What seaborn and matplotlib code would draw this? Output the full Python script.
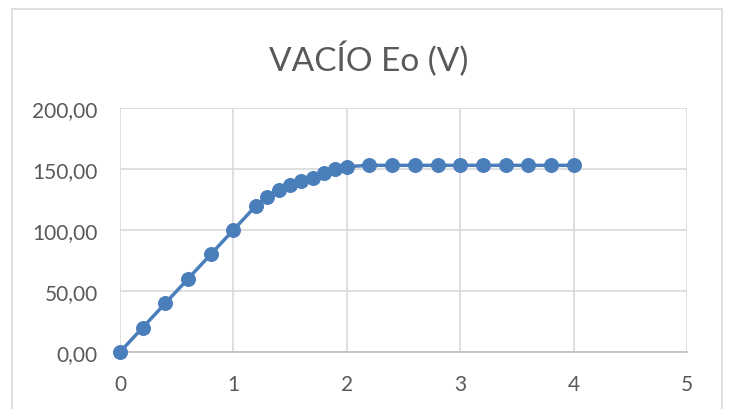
import matplotlib
matplotlib.use('Agg')
import matplotlib.pyplot as plt
from matplotlib.patches import Rectangle
import pandas as pd
import seaborn as sns

# Data
corriente = [0, 0.2, 0.4, 0.6, 0.8, 1.0, 1.2, 1.3, 1.4, 1.5, 1.6, 1.7, 1.8, 1.9, 2.0,
             2.2, 2.4, 2.6, 2.8, 3.0, 3.2, 3.4, 3.6, 3.8, 4.0]
tension = [0, 20, 40, 60, 80, 100, 120, 127, 133, 137, 140, 143, 147, 150, 152,
           153, 153, 153, 153, 153, 153, 153, 153, 153, 153]
y_ticks = [0, 50, 100, 150, 200]
y_labels = ['0,00', '50,00', '100,00', '150,00', '200,00']
x_ticks = [0, 1, 2, 3, 4, 5]

df = pd.DataFrame({'I': corriente, 'Eo': tension})

sns.set_style('white')
plt.rcParams['font.family'] = ['Lato', 'DejaVu Sans']

blue = '#4a7ebb'
grid = '#d9d9d9'
text = '#595959'

fig = plt.figure(figsize=(7.31, 4.10), dpi=100)
ax = fig.add_axes([120 / 731, 1 - 353 / 410, 567 / 731, 244 / 410])

sns.lineplot(data=df, x='I', y='Eo', ax=ax, color=blue, linewidth=2.5,
             marker='o', markersize=10, markeredgecolor=blue, clip_on=False, zorder=3)

ax.set_xlim(0, 5)
ax.set_ylim(0, 200)
ax.set_xticks(x_ticks)
ax.set_xticklabels([str(t) for t in x_ticks])
ax.set_yticks(y_ticks)
ax.set_yticklabels(y_labels)
ax.grid(True, color=grid, linewidth=1.2)
ax.set_axisbelow(True)
for side in ['top', 'right', 'left']:
    ax.spines[side].set_visible(False)
ax.spines['bottom'].set_color('#bfbfbf')
ax.spines['bottom'].set_linewidth(1.2)
ax.tick_params(axis='both', length=0, labelsize=15, colors=text)
ax.tick_params(axis='x', pad=16)
ax.tick_params(axis='y', pad=16)
ax.set_xlabel('')
ax.set_ylabel('')

fig.text(0.505, 0.855, 'VACÍO Eo (V)', ha='center', va='center', fontsize=24, color=text)

# chart border
fig.patches.append(Rectangle((12 / 731, -0.05), 710 / 731, 1.05 - 10 / 410,
                             transform=fig.transFigure, fill=False,
                             edgecolor=grid, linewidth=1.2))

fig.savefig('out.png', dpi=100)
